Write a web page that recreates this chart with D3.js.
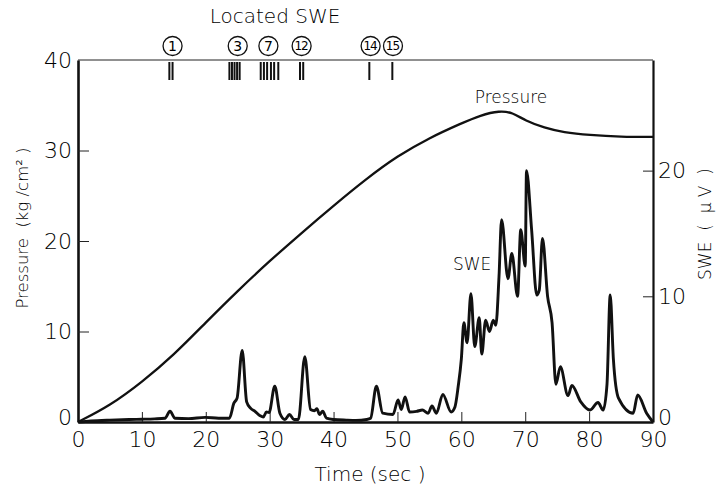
<!DOCTYPE html>
<html><head><meta charset="utf-8">
<script src="https://cdn.jsdelivr.net/npm/d3@7"></script>
<style>
body{margin:0;background:#fff}
text{font-family:"DejaVu Sans",sans-serif;fill:#000;white-space:pre;font-weight:200}
text.num{font-weight:400}
</style>
</head><body>
<svg id="chart" width="718" height="486"></svg>
<script>
// ---- data ----
const timeTicks = [0,10,20,30,40,50,60,70,80,90];
const pressureTicks = [0,10,20,30,40];
const sweTicks = [0,10,20];

const pressureTime   = [0,5,10,15,20,25,30,35,40,45,50,55,60,63,66,68,70,73,76,80,85,90];
const pressureValues = [0,1.8,4.4,7.4,11.0,14.5,17.8,20.9,23.9,26.8,29.4,31.4,33.0,33.9,34.4,34.2,33.3,32.5,32.0,31.7,31.5,31.5];

const sweTime = [0,2,5,8,10,12,13.6,14.4,15.2,17.3,19.9,22,23.7,24.4,24.9,25.7,26.4,27.0,27.7,28.5,29.0,29.5,29.9,30.8,31.6,32.4,33.1,33.8,34.5,35.5,36.4,37.0,37.4,37.8,38.3,38.9,40,42,43.5,45.2,45.8,46.7,47.7,49.3,50.1,50.6,51.2,51.9,53.0,53.9,54.8,55.4,56.1,57.1,58.4,59.0,59.5,60.0,60.4,60.9,61.5,62.1,62.8,63.2,63.8,64.4,65.0,65.4,65.9,66.3,67.3,67.9,68.8,69.3,70.0,70.2,71.0,71.8,72.2,72.7,73.5,74.2,74.8,75.5,76.7,77.3,78.7,80.1,81.4,82.2,82.8,83.3,83.8,84.6,86.9,87.6,89.0,90];
const sweValues = [0,0.08,0.15,0.2,0.22,0.25,0.3,0.85,0.3,0.27,0.37,0.3,0.3,1.5,1.9,5.7,1.6,1.1,0.85,0.5,0.4,0.8,0.75,2.85,0.7,0.2,0.6,0.2,0.2,5.2,1.0,0.9,1.05,0.6,0.85,0.3,0.2,0.15,0.13,0.2,0.3,2.85,0.7,0.6,1.75,1.0,2.0,0.8,0.85,0.95,0.7,1.27,0.7,2.2,0.8,1.2,2.8,5.0,7.9,6.3,10.2,6.0,8.3,5.4,8.1,7.2,8.1,7.7,11.6,16.1,11.4,13.4,10.0,15.3,12.4,20.0,15.3,10.1,10.5,14.6,10.0,7.9,3.0,4.4,2.1,2.9,1.6,0.95,1.55,0.95,3.0,10.1,5.0,1.9,0.7,2.15,0.7,0];

const locatedTimes = [14.3,14.8,23.7,24.1,24.5,24.9,25.3,28.6,29.1,29.6,30.2,30.7,31.35,34.75,35.25,45.6,49.2];
const locatedLabels = ["1","3","7","12","14","15"];
const locatedLabelTimes = [14.8,25.0,29.8,35.0,45.8,49.3];

// ---- layout ----
const svg = d3.select("#chart");
const L = 78, R = 653, T = 60, B = 422;
const x  = d3.scaleLinear().domain([0,90]).range([L,R]);
const yP = d3.scaleLinear().domain([0,40]).range([B,T]);
const yS = d3.scaleLinear().domain([0,28.8]).range([B,T]);

// frame top line
svg.append("line").attr("x1",L).attr("x2",R).attr("y1",T).attr("y2",T)
  .attr("stroke","#222").attr("stroke-width",1);

// axes
const tickFont = 22;
const gx = svg.append("g").attr("transform",`translate(0,${B})`)
  .call(d3.axisBottom(x).tickValues(timeTicks).tickFormat(d3.format("d"))
    .tickSize(-10).tickSizeOuter(0).tickPadding(9));
gx.select(".domain").attr("stroke","#111").attr("stroke-width",2.6);
gx.selectAll(".tick line").attr("stroke","#222").attr("stroke-width",1)
  .filter(d=>d===0||d===90).remove();
gx.selectAll(".tick text").attr("font-size",tickFont).attr("font-family","DejaVu Sans");

const gl = svg.append("g").attr("transform",`translate(${L},0)`)
  .call(d3.axisLeft(yP).tickValues(pressureTicks).tickFormat(d3.format("d"))
    .tickSize(-11).tickSizeOuter(0).tickPadding(6));
gl.select(".domain").attr("stroke","#111").attr("stroke-width",2.6);
gl.selectAll(".tick line").attr("stroke","#222").attr("stroke-width",1)
  .filter(d=>d===0||d===40).remove();
gl.selectAll(".tick text").attr("font-size",tickFont).attr("font-family","DejaVu Sans")
  .attr("dy",d=>d===0?"0.1em":"0.32em");

const gr = svg.append("g").attr("transform",`translate(${R},0)`)
  .call(d3.axisRight(yS).tickValues(sweTicks).tickFormat(d3.format("d"))
    .tickSize(-10).tickSizeOuter(0).tickPadding(5));
gr.select(".domain").attr("stroke","#111").attr("stroke-width",2.2);
gr.selectAll(".tick line").attr("stroke","#222").attr("stroke-width",1)
  .filter(d=>d===0).remove();
gr.selectAll(".tick text").attr("font-size",tickFont).attr("font-family","DejaVu Sans")
  .attr("dy",d=>d===0?"0.1em":"0.32em");

// curves
const pData = pressureTime.map((t,i)=>[t,pressureValues[i]]);
const sData = sweTime.map((t,i)=>[t,sweValues[i]]);
svg.append("path").datum(pData)
  .attr("d",d3.line().x(d=>x(d[0])).y(d=>yP(d[1])).curve(d3.curveBasis))
  .attr("fill","none").attr("stroke","#111").attr("stroke-width",2.3);
svg.append("path").datum(sData)
  .attr("d",d3.line().x(d=>x(d[0])).y(d=>yS(d[1])).curve(d3.curveMonotoneX))
  .attr("fill","none").attr("stroke","#111").attr("stroke-width",2.9).attr("stroke-linejoin","round");

// located SWE marks
svg.append("g").selectAll("line").data(locatedTimes).join("line")
  .attr("x1",d=>x(d)).attr("x2",d=>x(d)).attr("y1",T+2).attr("y2",T+20)
  .attr("stroke","#111").attr("stroke-width",2);

const lab = svg.append("g").selectAll("g").data(locatedLabels).join("g")
  .attr("transform",(d,i)=>`translate(${x(locatedLabelTimes[i])},46)`);
lab.append("circle").attr("r",9.5).attr("fill","none").attr("stroke","#111").attr("stroke-width",1.3);
lab.append("text").attr("class","num").text(d=>d).attr("text-anchor","middle").attr("dy","0.36em")
  .attr("font-size",d=>d.length>1?12:14).attr("letter-spacing",d=>d.length>1?-1:0)
  .attr("dx",d=>d.length>1?-0.5:0);

// titles
svg.append("text").text("Located SWE").attr("x",275).attr("y",23)
  .attr("text-anchor","middle").attr("font-size",20);
svg.append("text").text("Time (sec )").attr("x",370).attr("y",481)
  .attr("text-anchor","middle").attr("font-size",20);
svg.append("text").text("Pressure  (kg /cm² )")
  .attr("transform","translate(28,228) rotate(-90)")
  .attr("text-anchor","middle").attr("font-size",16.5);
svg.append("text").text("SWE  (  μ V  )")
  .attr("transform","translate(711,224) rotate(-90)")
  .attr("text-anchor","middle").attr("font-size",17);

// in-plot labels
svg.append("text").text("Pressure").attr("x",511).attr("y",103)
  .attr("text-anchor","middle").attr("font-size",17);
svg.append("text").text("SWE").attr("x",453).attr("y",270)
  .attr("font-size",17);
</script>
</body></html>
